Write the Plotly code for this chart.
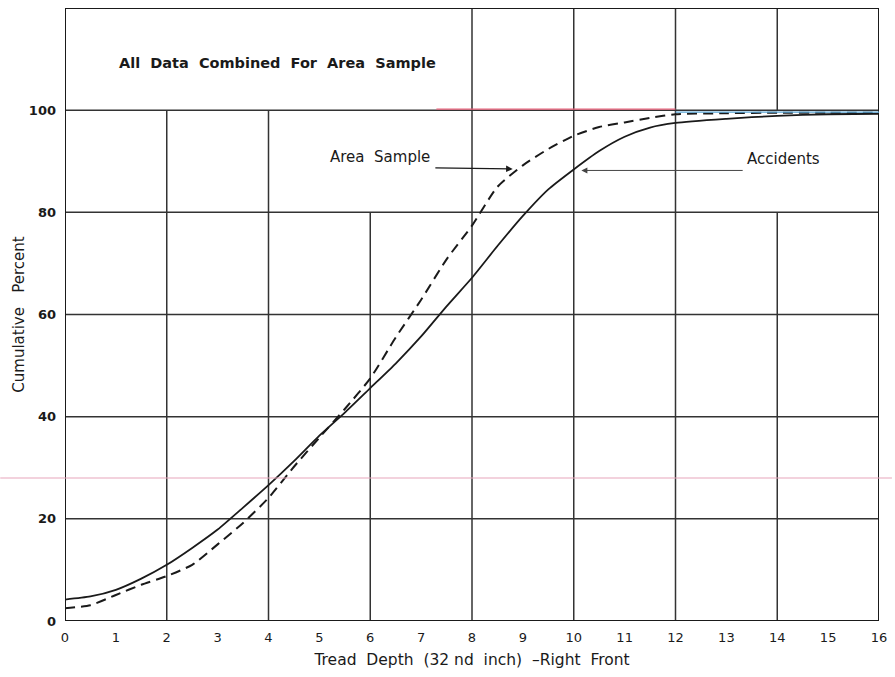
import plotly.graph_objects as go

# ---- data ----
tread_depth = [0, 0.5, 1, 1.5, 2, 2.5, 3, 3.5, 4, 4.5, 5, 5.5, 6, 6.5, 7, 7.5,
               8, 8.5, 9, 9.5, 10, 10.5, 11, 11.5, 12, 13, 14, 15, 16]
accidents = [4.2, 4.8, 6.1, 8.3, 11.0, 14.3, 17.9, 22.2, 26.6, 31.3, 36.3, 40.8,
             45.6, 50.4, 55.7, 61.6, 67.2, 73.4, 79.3, 84.5, 88.4, 92.0, 94.8,
             96.6, 97.5, 98.3, 98.9, 99.2, 99.3]
area_sample = [2.5, 3.1, 5.1, 7.1, 8.8, 11.0, 15.0, 19.2, 24.1, 30.2, 35.9, 41.5,
               47.5, 55.5, 62.9, 70.8, 77.4, 85.0, 89.2, 92.4, 95.0, 96.7, 97.6,
               98.5, 99.2, 99.4, 99.5, 99.5, 99.5]
x_ticks = list(range(0, 17))
y_ticks = [0, 20, 40, 60, 80, 100]

FONT = "DejaVu Sans"
INK = "#1a1a1a"

fig = go.Figure()
fig.add_trace(go.Scatter(x=tread_depth, y=accidents, mode="lines", name="Accidents",
                         line=dict(color=INK, width=1.8, shape="spline", smoothing=0.6)))
fig.add_trace(go.Scatter(x=tread_depth, y=area_sample, mode="lines", name="Area Sample",
                         line=dict(color=INK, width=2.0, dash="10px,6px",
                                   shape="spline", smoothing=0.6)))

# ---- irregular hand-drawn grid ----
grid_h = [(0, 16, y) for y in (20, 40, 60, 80, 100)]
grid_v = [(2, 0, 100), (4, 0, 100), (6, 0, 80), (8, 0, 120), (10, 0, 120),
          (12, 0, 120), (14, 0, 80), (14, 100, 120)]
shapes = []
for x0, x1, y in grid_h:
    shapes.append(dict(type="line", xref="x", yref="y", x0=x0, x1=x1, y0=y, y1=y,
                       line=dict(color="#333333", width=1.5), layer="below"))
for x, y0, y1 in grid_v:
    shapes.append(dict(type="line", xref="x", yref="y", x0=x, x1=x, y0=y0, y1=y1,
                       line=dict(color="#333333", width=1.5), layer="below"))
# frame
shapes.append(dict(type="rect", xref="x", yref="y", x0=0, x1=16, y0=0, y1=120,
                   line=dict(color=INK, width=2)))
# scan artefact lines
shapes.append(dict(type="line", xref="paper", yref="paper", x0=-65/817, x1=830/817,
                   y0=0.2333, y1=0.2333, line=dict(color="#e8a6bb", width=1.2)))
shapes.append(dict(type="line", xref="x", yref="y", x0=7.3, x1=12.0, y0=100.2, y1=100.2,
                   line=dict(color="#e8607a", width=1.2)))
shapes.append(dict(type="line", xref="x", yref="y", x0=12.0, x1=16, y0=99.6, y1=99.6,
                   line=dict(color="#5aa6d6", width=1.2)))

annotations = [
    dict(x=4.17, y=109.3, xref="x", yref="y", text="<b>All  Data  Combined  For  Area  Sample</b>",
         showarrow=False, font=dict(family=FONT, size=14.5, color=INK)),
    dict(x=6.2, y=90.9, xref="x", yref="y", text="Area  Sample",
         showarrow=False, font=dict(family=FONT, size=15, color=INK)),
    dict(x=8.8, y=88.5, ax=7.25, ay=88.7, xref="x", yref="y", axref="x", ayref="y",
         text="", showarrow=True, arrowhead=2, arrowsize=1.2, arrowwidth=1.1,
         arrowcolor=INK),
    dict(x=14.12, y=90.4, xref="x", yref="y", text="Accidents",
         showarrow=False, font=dict(family=FONT, size=15, color=INK)),
    dict(x=10.15, y=88.2, ax=13.35, ay=88.2, xref="x", yref="y", axref="x", ayref="y",
         text="", showarrow=True, arrowhead=2, arrowsize=1.2, arrowwidth=1.0,
         arrowcolor="#444444"),
]

fig.update_layout(
    width=895, height=677,
    margin=dict(l=65, r=13, t=8, b=56),
    paper_bgcolor="white", plot_bgcolor="white",
    showlegend=False,
    shapes=shapes, annotations=annotations,
    font=dict(family=FONT, color=INK),
)
fig.update_xaxes(range=[0, 16], tickmode="array", tickvals=x_ticks,
                 ticktext=[str(v) for v in x_ticks], showgrid=False, zeroline=False,
                 showline=False, ticks="", tickfont=dict(family=FONT, size=13, color=INK),
                 ticklabelstandoff=7,
                 title=dict(text="Tread  Depth  (32 nd  inch)  \u2013Right  Front",
                            font=dict(family=FONT, size=15.5, color=INK), standoff=10))
fig.update_yaxes(range=[0, 120], tickmode="array", tickvals=y_ticks,
                 ticktext=[f"<b>{v}</b>" for v in y_ticks], showgrid=False, zeroline=False,
                 showline=False, ticks="", tickfont=dict(family=FONT, size=13, color=INK),
                 ticklabelstandoff=8,
                 title=dict(text="Cumulative   Percent",
                            font=dict(family=FONT, size=15, color=INK), standoff=0))

fig.write_html("out.html")
